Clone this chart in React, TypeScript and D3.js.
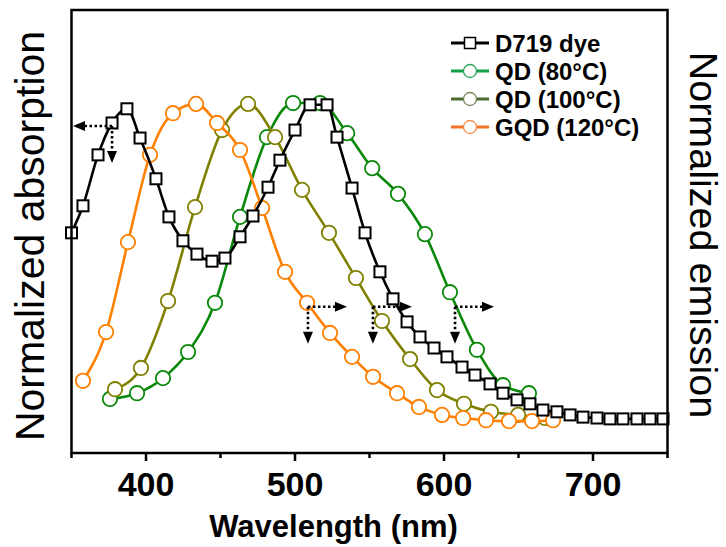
import React from "react";
import * as d3 from "d3";

// ---------- data ----------
const dyeWavelength = [350, 357.7, 367.8, 377.2, 387.2, 396, 406.7, 415.4, 424.8, 434.2, 444.3, 453, 463.1, 471.8, 481.9, 489.9, 500, 510.1, 521.5, 528.2, 538.3, 547, 557, 565.8, 575.2, 583.9, 593.3, 602, 612.1, 620.8, 630.9, 639.6, 649, 657.7, 666.4, 675.8, 684.6, 693.3, 702.7, 711.4, 720.1, 729.5, 738.3, 747];
const dyeValue = [0.497, 0.558, 0.673, 0.745, 0.777, 0.711, 0.619, 0.533, 0.479, 0.449, 0.433, 0.44, 0.488, 0.535, 0.6, 0.661, 0.729, 0.786, 0.786, 0.713, 0.598, 0.497, 0.409, 0.348, 0.296, 0.262, 0.237, 0.217, 0.194, 0.176, 0.156, 0.135, 0.12, 0.111, 0.097, 0.093, 0.086, 0.081, 0.079, 0.077, 0.077, 0.077, 0.077, 0.077];

const qd80Wavelength = [375.8, 394, 411.4, 428.2, 446.3, 463.1, 481.2, 498.7, 516.8, 535, 551.8, 569.1, 587.2, 604, 622.1, 639.6, 657];
const qd80Value = [0.122, 0.135, 0.169, 0.228, 0.339, 0.533, 0.713, 0.79, 0.79, 0.722, 0.643, 0.585, 0.494, 0.363, 0.233, 0.153, 0.135];

const qd100Wavelength = [379.2, 396.6, 414.8, 432.9, 451, 468.5, 486.6, 504.7, 522.8, 540.9, 558.4, 577.2, 595.3, 613.4, 631.5, 649.7, 667.8];
const qd100Value = [0.144, 0.192, 0.343, 0.555, 0.729, 0.788, 0.713, 0.594, 0.497, 0.395, 0.298, 0.212, 0.142, 0.111, 0.093, 0.086, 0.079];

const gqdWavelength = [357.7, 373.2, 387.9, 402.7, 418.1, 433.6, 447.7, 463.1, 477.9, 493.3, 508.1, 523.5, 538.3, 552.4, 568.5, 583.2, 598.7, 612.8, 628.2, 643.6, 659.1, 673.2];
const gqdValue = [0.163, 0.273, 0.476, 0.673, 0.767, 0.788, 0.745, 0.684, 0.553, 0.409, 0.339, 0.271, 0.217, 0.172, 0.135, 0.104, 0.086, 0.079, 0.074, 0.072, 0.072, 0.074];

const xTicksMajor = [400, 500, 600, 700];
const xTicksMinor = [350, 450, 550, 650, 750];

const legendLabels = ["D719 dye", "QD (80°C)", "QD (100°C)", "GQD (120°C)"];

// arrow annotations (data coords of the corner, horizontal direction)
const arrowWavelength = [377.2, 508.7, 552.3, 607.4];
const arrowValue = [0.738, 0.33, 0.33, 0.33];
const arrowDir = ["left", "right", "right", "right"];

// ---------- layout ----------
const W = 726;
const H = 547;
const left = 71.5;
const right = 667.5;
const top = 10;
const bottom = 453;

const x = d3.scaleLinear().domain([350, 750]).range([left, right]);
const y = d3.scaleLinear().domain([0, 1]).range([bottom, top]);

const FONT = "Arial, 'Liberation Sans', sans-serif";

type Series = {
  name: string;
  xs: number[];
  ys: number[];
  color: string;
  legendLine: string;
  legendMarker: string;
  marker: "square" | "circle";
};

const series: Series[] = [
  { name: legendLabels[1], xs: qd80Wavelength, ys: qd80Value, color: "#0a880a", legendLine: "#13a04a", legendMarker: "#2aa55a", marker: "circle" },
  { name: legendLabels[2], xs: qd100Wavelength, ys: qd100Value, color: "#808000", legendLine: "#4f6a2f", legendMarker: "#7a8a5a", marker: "circle" },
  { name: legendLabels[3], xs: gqdWavelength, ys: gqdValue, color: "#ff7f00", legendLine: "#f07524", legendMarker: "#f59050", marker: "circle" },
  { name: legendLabels[0], xs: dyeWavelength, ys: dyeValue, color: "#000000", legendLine: "#000000", legendMarker: "#000000", marker: "square" },
];

const legendOrder = [3, 0, 1, 2];

function Marker({ cx, cy, type, color }: { cx: number; cy: number; type: string; color: string }) {
  if (type === "square") {
    const s = 11;
    return <rect x={cx - s / 2} y={cy - s / 2} width={s} height={s} fill="#fff" stroke={color} strokeWidth={2} />;
  }
  return <circle cx={cx} cy={cy} r={7.2} fill="#fff" stroke={color} strokeWidth={1.8} />;
}

function Arrow({ x0, y0, dir }: { x0: number; y0: number; dir: string }) {
  const hl = 12;
  const hw = 5;
  const len = 39;
  const sx = dir === "left" ? -1 : 1;
  const tipX = x0 + sx * len;
  const tipY = y0 + 37;
  return (
    <g>
      <line x1={x0} y1={y0} x2={tipX - sx * hl} y2={y0} stroke="#000" strokeWidth={2.6} strokeDasharray="2.5 2.5" />
      <path d={`M${tipX},${y0} L${tipX - sx * hl},${y0 - hw} L${tipX - sx * hl},${y0 + hw} Z`} fill="#000" />
      <line x1={x0} y1={y0} x2={x0} y2={tipY - hl} stroke="#000" strokeWidth={2.6} strokeDasharray="2.5 2.5" />
      <path d={`M${x0},${tipY} L${x0 - hw},${tipY - hl} L${x0 + hw},${tipY - hl} Z`} fill="#000" />
    </g>
  );
}

export default function App() {
  const line = d3
    .line<[number, number]>()
    .x((d) => x(d[0]))
    .y((d) => y(d[1]))
    .curve(d3.curveMonotoneX);

  return (
    <svg width={W} height={H} style={{ position: "absolute", left: 0, top: 0, background: "#fff" }} fontFamily={FONT}>
      <rect x={0} y={0} width={W} height={H} fill="#fff" />
      {/* series */}
      {series.map((s, i) => {
        const pts: [number, number][] = s.xs.map((v, j) => [v, s.ys[j]]);
        return (
          <g key={i}>
            <path d={line(pts) || ""} fill="none" stroke={s.color} strokeWidth={2.6} />
            {pts.map((p, j) => (
              <Marker key={j} cx={x(p[0])} cy={y(p[1])} type={s.marker} color={s.color} />
            ))}
          </g>
        );
      })}

      {/* arrows */}
      {arrowWavelength.map((w, i) => (
        <Arrow key={i} x0={x(w)} y0={y(arrowValue[i])} dir={arrowDir[i]} />
      ))}

      {/* frame */}
      <rect x={left} y={top} width={right - left} height={bottom - top} fill="none" stroke="#000" strokeWidth={2.5} />
      {/* ticks */}
      {xTicksMajor.map((t) => (
        <line key={"M" + t} x1={x(t)} x2={x(t)} y1={bottom} y2={bottom + 8} stroke="#000" strokeWidth={2.5} />
      ))}
      {xTicksMinor.map((t) => (
        <line key={"m" + t} x1={x(t)} x2={x(t)} y1={bottom} y2={bottom + 5} stroke="#000" strokeWidth={2.5} />
      ))}
      {xTicksMajor.map((t) => (
        <text key={"l" + t} x={x(t)} y={496} textAnchor="middle" fontSize={34} fontWeight="bold" fill="#000">
          {t}
        </text>
      ))}

      {/* axis titles */}
      <text x={333.5} y={537} textAnchor="middle" fontSize={31} fontWeight="bold" fill="#000">
        Wavelength (nm)
      </text>
      <text x={44} y={236} transform="rotate(-90, 44, 236)" textAnchor="middle" fontSize={41} fill="#000">
        Normalized absorption
      </text>
      <text x={690} y={235} transform="rotate(90, 690, 235)" textAnchor="middle" fontSize={39.5} fill="#000">
        Normalized emission
      </text>

      {/* legend */}
      {legendOrder.map((si, row) => {
        const s = series[si];
        const cy = 43 + row * 28;
        return (
          <g key={row}>
            <line x1={451} x2={489} y1={cy} y2={cy} stroke={s.legendLine} strokeWidth={3} />
            {s.marker === "square" ? (
              <rect x={470 - 5.5} y={cy - 5.5} width={11} height={11} fill="#fff" stroke="#000" strokeWidth={1.5} />
            ) : (
              <circle cx={470} cy={cy} r={6.5} fill="#fff" stroke={s.legendMarker} strokeWidth={1.3} />
            )}
            <text x={495} y={cy + 8.5} fontSize={24} fontWeight="bold" fill="#000">
              {s.name}
            </text>
          </g>
        );
      })}
    </svg>
  );
}
